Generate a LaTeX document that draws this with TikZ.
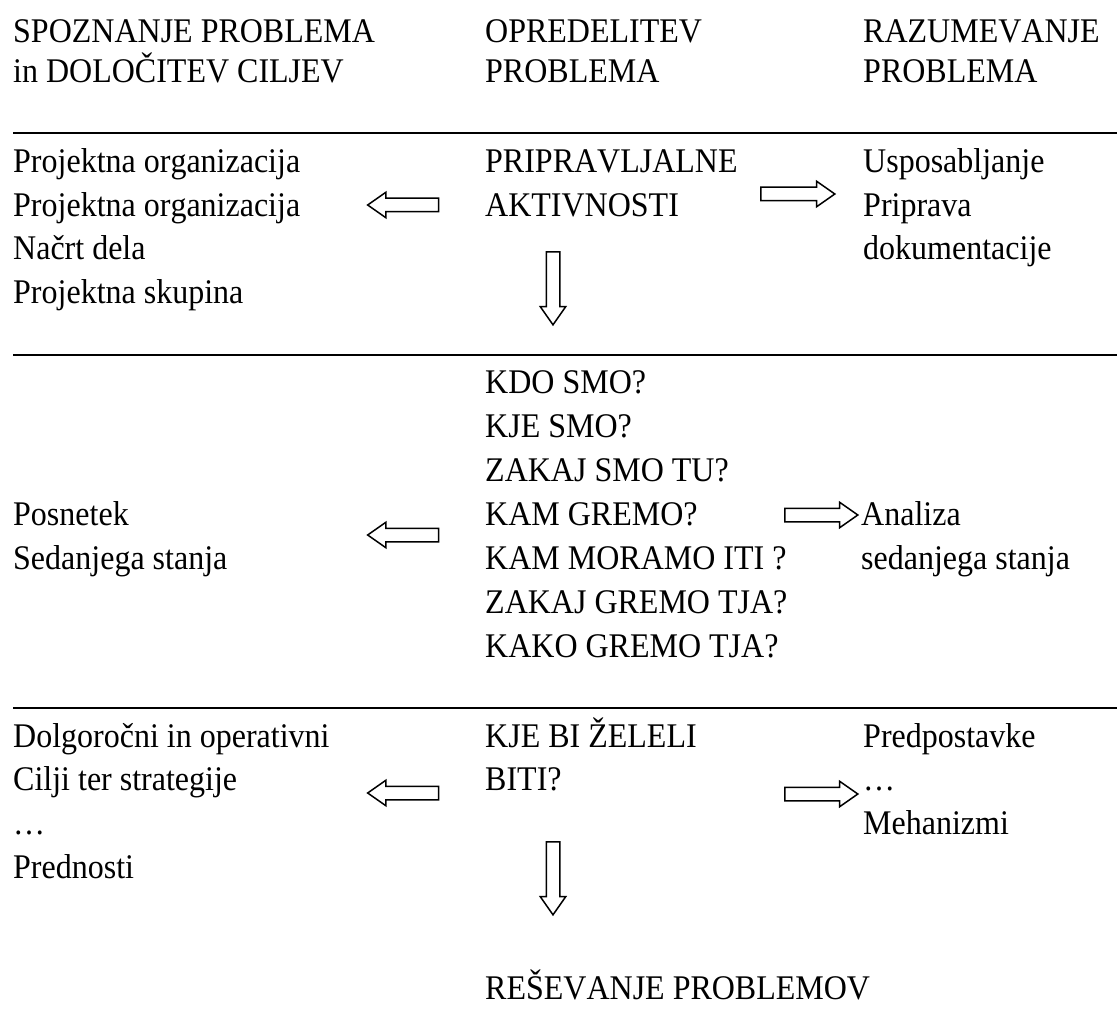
\documentclass[tikz,border=0pt]{standalone}
\usepackage{graphicx}
\usepackage{fontspec}
\setmainfont{Liberation Serif}[Kerning=Off]
\usetikzlibrary{shapes.arrows}

% letters set slightly taller than wide
\newcommand{\tallt}[1]{\scalebox{1}[1.08]{#1}}

\tikzset{
  txt/.style={anchor=base west, inner sep=0pt, font=\fontsize{32}{40}\selectfont},
  rule/.style={line width=1.5pt},
  blockarrow/.style={single arrow, draw, line width=1.5pt, fill=white,
    text height=0pt, text depth=0pt, text width=0pt,
    minimum width=0pt, single arrow head extend=6pt, single arrow tip angle=70},
  harrow/.style={blockarrow, inner xsep=0pt, inner ysep=6pt},
  varrow/.style={blockarrow, inner xsep=6pt, inner ysep=0pt, shape border rotate=270},
}

\begin{document}
\begin{tikzpicture}[x=1pt, y=-1pt]
  \useasboundingbox (0,0) rectangle (1117,1011);

  % column headings
  \node[txt] (h1a) at (13,43) {\tallt{SPOZNANJE PROBLEMA}};
  \node[txt] (h1b) at (13,83) {\tallt{in DOLOČITEV CILJEV}};
  \node[txt] (h2a) at (485,43) {\tallt{OPREDELITEV}};
  \node[txt] (h2b) at (485,83) {\tallt{PROBLEMA}};
  \node[txt] (h3a) at (863,43) {\tallt{RAZUMEVANJE}};
  \node[txt] (h3b) at (863,83) {\tallt{PROBLEMA}};

  % horizontal rules
  \coordinate (r1l) at (13,133);  \coordinate (r1r) at (1117,133);
  \coordinate (r2l) at (13,355);  \coordinate (r2r) at (1117,355);
  \coordinate (r3l) at (13,708);  \coordinate (r3r) at (1117,708);
  \draw[rule] (r1l) -- (r1r);
  \draw[rule] (r2l) -- (r2r);
  \draw[rule] (r3l) -- (r3r);

  % preparatory activities
  \node[txt] (a1) at (13,173)   {\tallt{Projektna organizacija}};
  \node[txt] (a2) at (13,216.5) {\tallt{Projektna organizacija}};
  \node[txt] (a3) at (13,260)   {\tallt{Načrt dela}};
  \node[txt] (a4) at (13,303.5) {\tallt{Projektna skupina}};
  \node[txt] (b1) at (485,173)   {\tallt{PRIPRAVLJALNE}};
  \node[txt] (b2) at (485,216.5) {\tallt{AKTIVNOSTI}};
  \node[txt] (c1) at (863,173)   {\tallt{Usposabljanje}};
  \node[txt] (c2) at (863,216.5) {\tallt{Priprava}};
  \node[txt] (c3) at (863,260)   {\tallt{dokumentacije}};

  \node[harrow, minimum height=71pt, shape border rotate=180] (arA1) at (408,205) {};
  \node[harrow, minimum height=74pt] (arA2) at (793,194) {};
  \node[varrow, minimum height=73pt] (arA3) at (553,283.5) {};

  % current state
  \node[txt] (d1) at (13,525) {\tallt{Posnetek}};
  \node[txt] (d2) at (13,569) {\tallt{Sedanjega stanja}};
  \node[txt] (e1) at (485,393) {\tallt{KDO SMO?}};
  \node[txt] (e2) at (485,437) {\tallt{KJE SMO?}};
  \node[txt] (e3) at (485,481) {\tallt{ZAKAJ SMO TU?}};
  \node[txt] (e4) at (485,525) {\tallt{KAM GREMO?}};
  \node[txt] (e5) at (485,569) {\tallt{KAM MORAMO ITI ?}};
  \node[txt] (e6) at (485,613) {\tallt{ZAKAJ GREMO TJA?}};
  \node[txt] (e7) at (485,657) {\tallt{KAKO GREMO TJA?}};
  \node[txt] (f1) at (861,525) {\tallt{Analiza}};
  \node[txt] (f2) at (861,569) {\tallt{sedanjega stanja}};

  \node[harrow, minimum height=71pt, shape border rotate=180] (arB1) at (408,535) {};
  \node[harrow, minimum height=73pt] (arB2) at (816.5,515) {};

  % desired state
  \node[txt] (g1) at (13,747)   {\tallt{Dolgoročni in operativni}};
  \node[txt] (g2) at (13,790.5) {\tallt{Cilji ter strategije}};
  \node[txt] (g3) at (13,834)   {\tallt{…}};
  \node[txt] (g4) at (13,878)   {\tallt{Prednosti}};
  \node[txt] (k1) at (485,747)   {\tallt{KJE BI ŽELELI}};
  \node[txt] (k2) at (485,790.5) {\tallt{BITI?}};
  \node[txt] (m1) at (863,747)   {\tallt{Predpostavke}};
  \node[txt] (m2) at (863,790.5) {\tallt{…}};
  \node[txt] (m3) at (863,834)   {\tallt{Mehanizmi}};

  \node[harrow, minimum height=71pt, shape border rotate=180] (arC1) at (408,793) {};
  \node[harrow, minimum height=73pt] (arC2) at (816.5,794) {};
  \node[varrow, minimum height=73pt] (arC3) at (553,873.5) {};

  % outcome
  \node[txt] (z1) at (485,999) {\tallt{REŠEVANJE PROBLEMOV}};
\end{tikzpicture}
\end{document}
